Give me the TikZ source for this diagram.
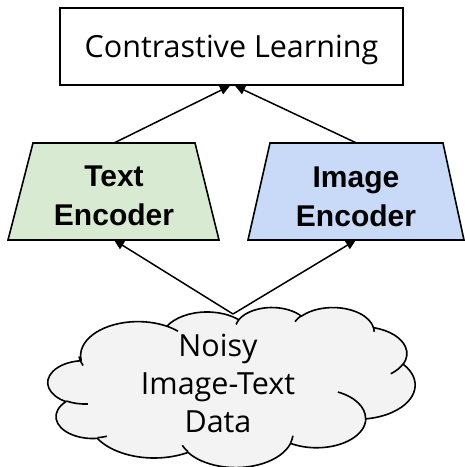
\documentclass[tikz,border=0pt]{standalone}
\usepackage{fontspec}
\setmainfont{Open Sans}
\newfontfamily\encfont{Liberation Sans}
\usetikzlibrary{arrows.meta,calc,backgrounds}

\definecolor{encgreen}{HTML}{D9EAD3}
\definecolor{encblue}{HTML}{C9DAF8}
\definecolor{cloudgray}{HTML}{F3F3F3}

% Cloud outline helpers: coordinates are given in a 432 x 432 unit box
% (y pointing down) that is mapped onto the cloud's place on the page.
\newcommand\cldpoint[2]{\pgfpoint{48pt+#1*0.849537pt}{-307pt-#2*0.370370pt}}
% Elliptical arc from the current point: radii, start angle, sweep (degrees,
% measured as ray angles, clockwise on the page).
\newcommand\cldarc[4]{%
  \pgfmathsetmacro\cldA{#3}%
  \pgfmathsetmacro\cldB{(#3)+(#4)}%
  \pgfmathsetmacro\cldTA{atan2((#1)*sin(\cldA),(#2)*cos(\cldA))}%
  \pgfmathsetmacro\cldTB{atan2((#1)*sin(\cldB),(#2)*cos(\cldB))}%
  \pgfmathsetmacro\cldDA{(\cldTA)-(\cldA)}%
  \pgfmathsetmacro\cldDA{(\cldDA)-360*round((\cldDA)/360)}%
  \pgfmathsetmacro\cldDB{(\cldTB)-(\cldB)}%
  \pgfmathsetmacro\cldDB{(\cldDB)-360*round((\cldDB)/360)}%
  \pgfmathsetmacro\cldS{-((\cldA)+(\cldDA))}%
  \pgfmathsetmacro\cldE{-((\cldB)+(\cldDB))}%
  \pgfmathsetmacro\cldRX{(#1)*0.849537}%
  \pgfmathsetmacro\cldRY{(#2)*0.370370}%
  \pgfpatharc{\cldS}{\cldE}{\cldRX pt and \cldRY pt}%
}

\begin{document}
\begin{tikzpicture}[x=1pt,y=-1pt,
  conn/.style={-{Triangle[length=10pt,width=9pt]},line width=1.5pt},
  enclabel/.style={font=\encfont\bfseries\fontsize{30}{39}\selectfont,
    align=center,inner sep=0pt},
  plainlabel/.style={font=\fontsize{30.5}{38}\selectfont,align=center,inner sep=0pt},
  encshape/.style={draw=black,line width=1.6pt,line join=miter}]
\useasboundingbox (0,0) rectangle (465,467);

% top box
\node[plainlabel,draw,line width=1.6pt,minimum width=343pt,minimum height=77pt,
  text height=22pt,text depth=0pt] (contrast) at (231.5,46.5) {Contrastive Learning};

% encoder labels
\node[enclabel] (textenc) at (114,195.75) {Text\\Encoder};
\node[enclabel] (imgenc) at (356,196.75) {Image\\Encoder};

% trapezoid bodies behind the labels
\begin{scope}[on background layer]
  \fill[white] (0,0) rectangle (465,467);
  \filldraw[encshape,fill=encgreen]
    ($(textenc)+(-106,44.25)$) -- ($(textenc)+(105,44.25)$)
    -- ($(textenc)+(81,-52.75)$) -- ($(textenc)+(-81,-52.75)$) -- cycle;
  \filldraw[encshape,fill=encblue]
    ($(imgenc)+(-108,43.25)$) -- ($(imgenc)+(108,43.25)$)
    -- ($(imgenc)+(87,-53.75)$) -- ($(imgenc)+(-86,-53.75)$) -- cycle;
\end{scope}

\coordinate (textenc-top) at ($(textenc)+(0,-52.75)$);
\coordinate (textenc-bottom) at ($(textenc)+(0,44.25)$);
\coordinate (imgenc-top) at ($(imgenc)+(0.5,-53.75)$);
\coordinate (imgenc-bottom) at ($(imgenc)+(0,43.25)$);

% cloud
\begin{pgfscope}
  \pgfsetlinewidth{1.6pt}
  \pgfsetroundjoin
  \pgfsetfillcolor{cloudgray}
  \pgfsetstrokecolor{black}
  \pgfpathmoveto{\cldpoint{39.00}{143.70}}
  \cldarc{67.53}{91.90}{-190.4875}{123.7805}
  \cldarc{53.33}{72.67}{-144.1024}{89.9452}
  \cldarc{43.65}{59.45}{-145.8079}{99.7230}
  \cldarc{48.57}{65.95}{-130.9861}{117.2417}
  \cldarc{53.33}{72.73}{-78.7089}{109.0269}
  \cldarc{67.75}{92.20}{-46.2673}{130.2690}
  \cldarc{57.85}{78.67}{0.6250}{114.0333}
  \cldarc{67.52}{92.15}{22.4516}{115.1726}
  \cldarc{77.20}{105.43}{66.2426}{75.7110}
  \cldarc{43.60}{59.18}{-274.9421}{146.7356}
  \cldarc{43.45}{59.45}{-246.8285}{152.5189}
  \pgfpathclose
  \pgfusepath{fill,stroke}
  % inner folds of the cloud
  \pgfpathmoveto{\cldpoint{46.93}{261.77}}\cldarc{43.45}{59.45}{86.7420}{26.4295}
  \pgfpathmoveto{\cldpoint{69.28}{348.99}}\cldarc{43.60}{59.18}{73.6105}{11.4475}
  \pgfpathmoveto{\cldpoint{164.78}{390.90}}\cldarc{67.52}{92.15}{137.6242}{14.0811}
  \pgfpathmoveto{\cldpoint{288.27}{347.51}}\cldarc{67.52}{92.15}{6.4533}{15.9984}
  \pgfpathmoveto{\cldpoint{341.29}{229.54}}\cldarc{57.85}{78.67}{-70.2924}{70.9174}
  \pgfpathmoveto{\cldpoint{417.98}{153.54}}\cldarc{53.33}{72.73}{30.3180}{27.7515}
  \pgfpathmoveto{\cldpoint{383.24}{54.26}}\cldarc{48.57}{65.95}{-13.7443}{14.8589}
  \pgfpathmoveto{\cldpoint{290.78}{39.52}}\cldarc{48.57}{65.95}{-149.1815}{18.1954}
  \pgfpathmoveto{\cldpoint{221.41}{47.20}}\cldarc{43.65}{59.45}{-163.4943}{17.6864}
  \pgfpathmoveto{\cldpoint{140.00}{51.92}}\cldarc{67.53}{91.90}{-66.7070}{12.3194}
  \pgfpathmoveto{\cldpoint{41.27}{157.89}}\cldarc{67.53}{91.90}{150}{20}
  \pgfusepath{stroke}
\end{pgfscope}

\node[plainlabel] (cloud) at (218,383.5) {Noisy\\Image-Text\\Data};
\coordinate (cloudtop) at (233,314);

% connectors
\draw[conn] (textenc-top) -- ($(contrast.south)+(-1.5,0)$);
\draw[conn] (imgenc-top) -- ($(contrast.south)+(3.5,0)$);
\draw[conn] (cloudtop) -- (textenc-bottom);
\draw[conn] (cloudtop) -- (imgenc-bottom);
\end{tikzpicture}
\end{document}
